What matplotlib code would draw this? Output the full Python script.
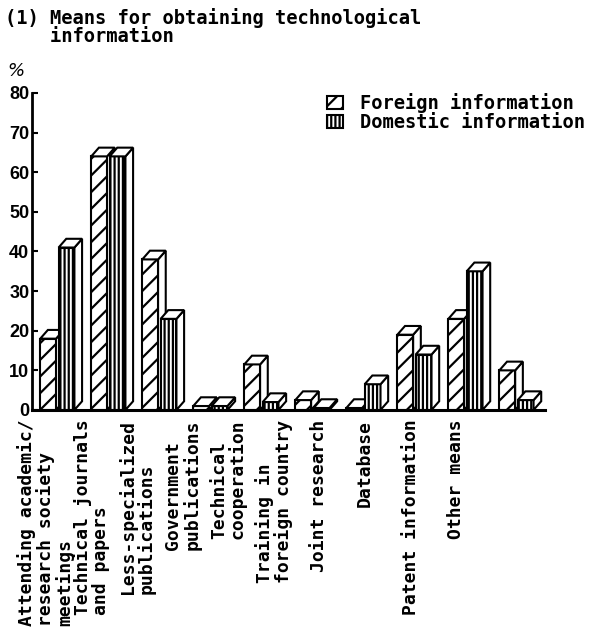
"""
Means for obtaining technological information - 3D-style grouped bar chart
"""

import numpy as np
import matplotlib
matplotlib.use("Agg")
import matplotlib.pyplot as plt
from matplotlib.patches import Patch

# ---- data ----
categories = [
    "Attending academic/\nresearch society\nmeetings",
    "Technical journals\nand papers",
    "Less-specialized\npublications",
    "Government\npublications",
    "Technical\ncooperation",
    "Training in\nforeign country",
    "Joint research",
    "Database",
    "Patent information",
    "Other means",
]
foreign = [18, 64, 38, 1, 11.5, 2.5, 0.5, 19, 23, 10]
domestic = [41, 64, 23, 1, 2, 0.5, 6.5, 14, 35, 2.5]
series_names = ["Foreign information", "Domestic information"]
yticks = [0, 10, 20, 30, 40, 50, 60, 70, 80]

MONO = "DejaVu Sans Mono"
plt.rcParams["hatch.linewidth"] = 1.6
plt.rcParams["hatch.color"] = "black"

fig = plt.figure(figsize=(5.94, 6.32), dpi=100)
ax = fig.add_axes([0.054, 0.3513, 0.864, 0.5016])

bar_w = 0.31
dx, dy = 0.15, 2.2   # depth of the fake 3D faces


def draw_bar(x0, h, hatch):
    # front face
    ax.bar(x0, h, width=bar_w, align="edge", facecolor="white",
           edgecolor="black", linewidth=1.5, hatch=hatch, zorder=2)
    x1 = x0 + bar_w
    # side face
    ax.fill([x1, x1 + dx, x1 + dx, x1], [0, dy, h + dy, h],
            facecolor="white", edgecolor="black", linewidth=1.5, zorder=2)
    # top face
    ax.fill([x0, x0 + dx, x1 + dx, x1], [h, h + dy, h + dy, h],
            facecolor="white", edgecolor="black", linewidth=1.5, zorder=2)


idx = np.arange(len(categories))
for i in idx:
    draw_bar(i - 0.33, foreign[i], "//")
    draw_bar(i + 0.03, domestic[i], "||||")

ax.set_xlim(-0.49, 9.57)
ax.set_ylim(0, 80)
ax.set_yticks(yticks)
ax.set_yticklabels([str(t) for t in yticks], fontfamily="Liberation Sans",
                   fontweight="bold", fontsize=13)
ax.tick_params(axis="y", direction="in", length=4, width=1.5, pad=2)

# category labels sit on their own spacing, a bit tighter than the bars
label_pos = idx * 0.894 - 0.22
ax.set_xticks(label_pos)
ax.set_xticklabels(categories, rotation=90, ha="center", va="top",
                   multialignment="left", fontfamily=MONO, fontweight="bold",
                   fontsize=13, linespacing=1.0)
ax.tick_params(axis="x", length=0, pad=7)

for s in ["top", "right"]:
    ax.spines[s].set_visible(False)
ax.spines["left"].set_linewidth(2)
ax.spines["bottom"].set_linewidth(2.2)
ax.spines["bottom"].set_zorder(3)

fig.text(0.008, 0.988, "(1) Means for obtaining technological\n    information",
         ha="left", va="top", fontfamily=MONO, fontweight="bold",
         fontsize=13.5, linespacing=0.95)
fig.text(0.013, 0.873, "%", ha="left", va="bottom", fontfamily="DejaVu Sans",
         fontstyle="italic", fontsize=13)

handles = [
    Patch(facecolor="white", edgecolor="black", hatch="//", linewidth=1.5),
    Patch(facecolor="white", edgecolor="black", hatch="||||", linewidth=1.5),
]
ax.legend(handles, series_names, loc="upper right",
          bbox_to_anchor=(1.0, 0.868), bbox_transform=fig.transFigure,
          frameon=False, handlelength=0.85, handleheight=0.7,
          handletextpad=0.9, labelspacing=0.0, borderpad=0,
          prop={"family": MONO, "weight": "bold", "size": 13.5})

fig.savefig("out.png", dpi=100)
